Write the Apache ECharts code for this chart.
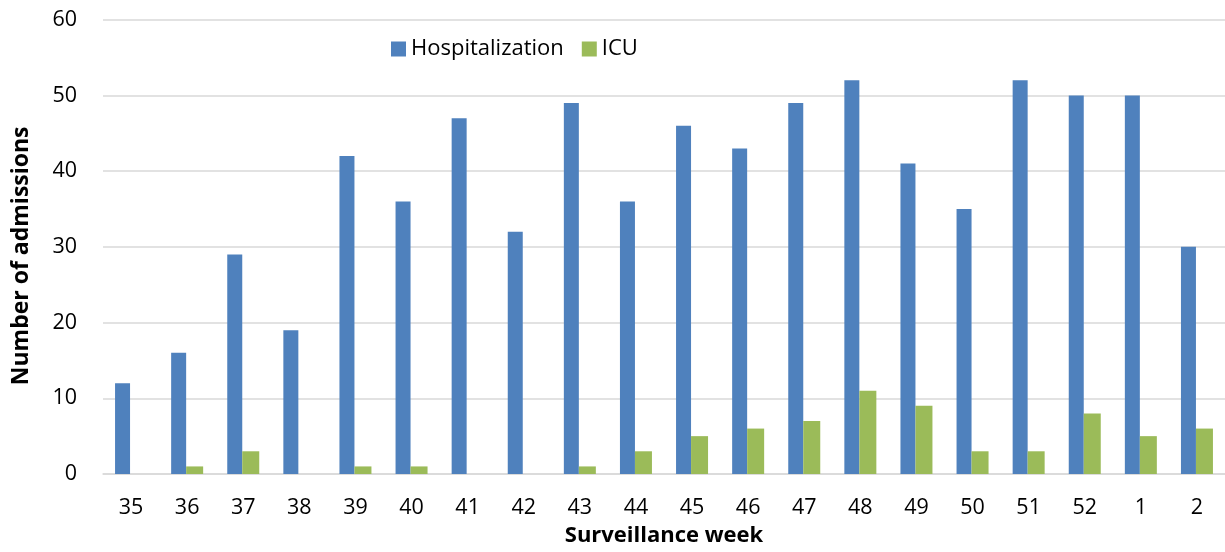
<!DOCTYPE html>
<html>
<head>
<meta charset="utf-8">
<script src="https://cdn.jsdelivr.net/npm/echarts@6/dist/echarts.min.js"></script>
<style>html,body{margin:0;padding:0;background:#fff}#c{width:1225px;height:552px}</style>
</head>
<body>
<div id="c"></div>
<script>
const weeks = ['35','36','37','38','39','40','41','42','43','44','45','46','47','48','49','50','51','52','1','2'];
const hospitalization = [12,16,29,19,42,36,47,32,49,36,46,43,49,52,41,35,52,50,50,30];
const icu = [0,1,3,0,1,1,0,0,1,3,5,6,7,11,9,3,3,8,5,6];
const yTicks = {min:0, max:60, interval:10};

const chart = echarts.init(document.getElementById('c'));
const font = '"Open Sans", "Noto Sans", sans-serif';
chart.setOption({
  animation:false,
  textStyle:{fontFamily:font},
  legend:{
    top:33, left:386,
    itemWidth:15, itemHeight:15, itemGap:18,
    icon:'rect',
    textStyle:{fontSize:22, color:'#000', fontFamily:font},
    data:['Hospitalization','ICU']
  },
  grid:{left:103, width:1126, top:19.7, bottom:77.7},
  xAxis:{
    type:'category', data:weeks,
    axisLine:{lineStyle:{color:'#d9d9d9', width:1.5}},
    axisTick:{show:false},
    axisLabel:{fontSize:21.5, color:'#000', margin:23, fontFamily:font},
    name:'Surveillance week', nameLocation:'middle', nameGap:51,
    nameTextStyle:{fontSize:22, fontWeight:'bold', color:'#000', fontFamily:font}
  },
  yAxis:{
    type:'value', min:yTicks.min, max:yTicks.max, interval:yTicks.interval,
    axisLine:{show:false}, axisTick:{show:false},
    splitLine:{lineStyle:{color:'#d9d9d9', width:1.5}},
    axisLabel:{fontSize:21.5, color:'#000', margin:26, fontFamily:font},
    name:'Number of admissions', nameLocation:'middle', nameGap:70, nameRotate:90,
    nameTextStyle:{fontSize:23, fontWeight:'bold', color:'#000', fontFamily:font, padding:[0,18,0,0]}
  },
  series:[
    {name:'Hospitalization', type:'bar', data:hospitalization, barWidth:15, barGap:'0%', itemStyle:{color:'#4F81BD'}},
    {name:'ICU', type:'bar', data:icu, barWidth:17, barGap:'0%', itemStyle:{color:'#9BBB59'}}
  ]
});
</script>
</body>
</html>
